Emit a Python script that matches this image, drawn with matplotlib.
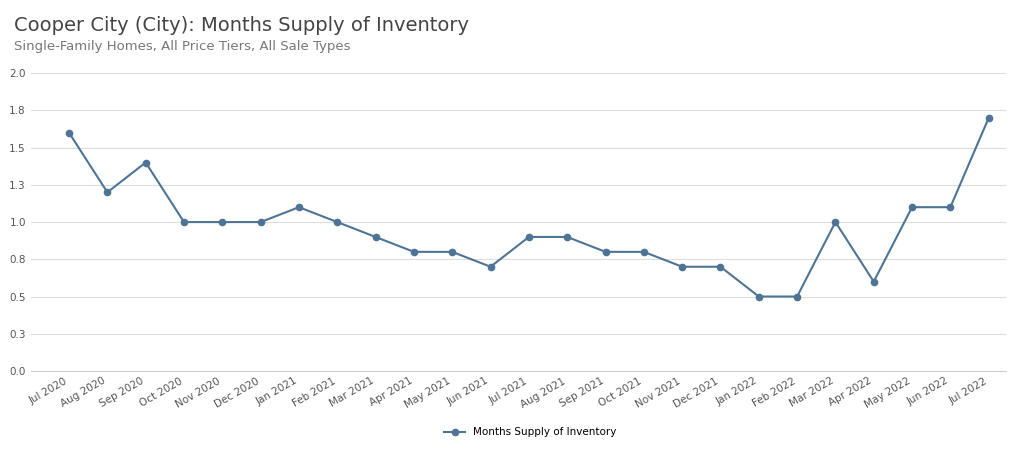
import matplotlib
matplotlib.use("Agg")
import matplotlib.pyplot as plt
from matplotlib.ticker import FixedLocator, FixedFormatter

months = ["Jul 2020","Aug 2020","Sep 2020","Oct 2020","Nov 2020","Dec 2020","Jan 2021","Feb 2021",
          "Mar 2021","Apr 2021","May 2021","Jun 2021","Jul 2021","Aug 2021","Sep 2021","Oct 2021",
          "Nov 2021","Dec 2021","Jan 2022","Feb 2022","Mar 2022","Apr 2022","May 2022","Jun 2022","Jul 2022"]
values = [1.6,1.2,1.4,1.0,1.0,1.0,1.1,1.0,0.9,0.8,0.8,0.7,0.9,0.9,0.8,0.8,0.7,0.7,0.5,0.5,1.0,0.6,1.1,1.1,1.7]
yticks = [0,0.25,0.5,0.75,1.0,1.25,1.5,1.75,2.0]
ylabels = ["0.0","0.3","0.5","0.8","1.0","1.3","1.5","1.8","2.0"]

color = "#4e7495"
fig = plt.figure(figsize=(10.24,4.69), dpi=100)
ax = fig.add_axes([0.03, 0.209, 0.952, 0.635])
x = range(len(months))
ax.plot(x, values, color=color, marker="o", markersize=4.5, linewidth=1.5, label="Months Supply of Inventory")
ax.set_ylim(0, 2.0)
ax.set_xlim(-1.0, len(months)-0.56)
ax.yaxis.set_major_locator(FixedLocator(yticks))
ax.yaxis.set_major_formatter(FixedFormatter(ylabels))
ax.set_xticks(list(x))
ax.set_xticklabels(months, rotation=30, ha="right", fontsize=7.5, color="#555555")
ax.tick_params(axis="y", labelsize=7.5, colors="#555555", length=0)
ax.tick_params(axis="x", length=0)
ax.grid(axis="y", color="#dddddd", linewidth=0.8)
for s in ["top","right","left"]:
    ax.spines[s].set_visible(False)
ax.spines["bottom"].set_color("#cccccc")
fig.text(0.014, 0.965, "Cooper City (City): Months Supply of Inventory", fontsize=14, color="#444444", va="top")
fig.text(0.014, 0.915, "Single-Family Homes, All Price Tiers, All Sale Types", fontsize=9.5, color="#777777", va="top")
fig.legend(loc="center", bbox_to_anchor=(0.518, 0.078), frameon=False, fontsize=7.5, handlelength=2)
fig.savefig("out.png", dpi=100)
